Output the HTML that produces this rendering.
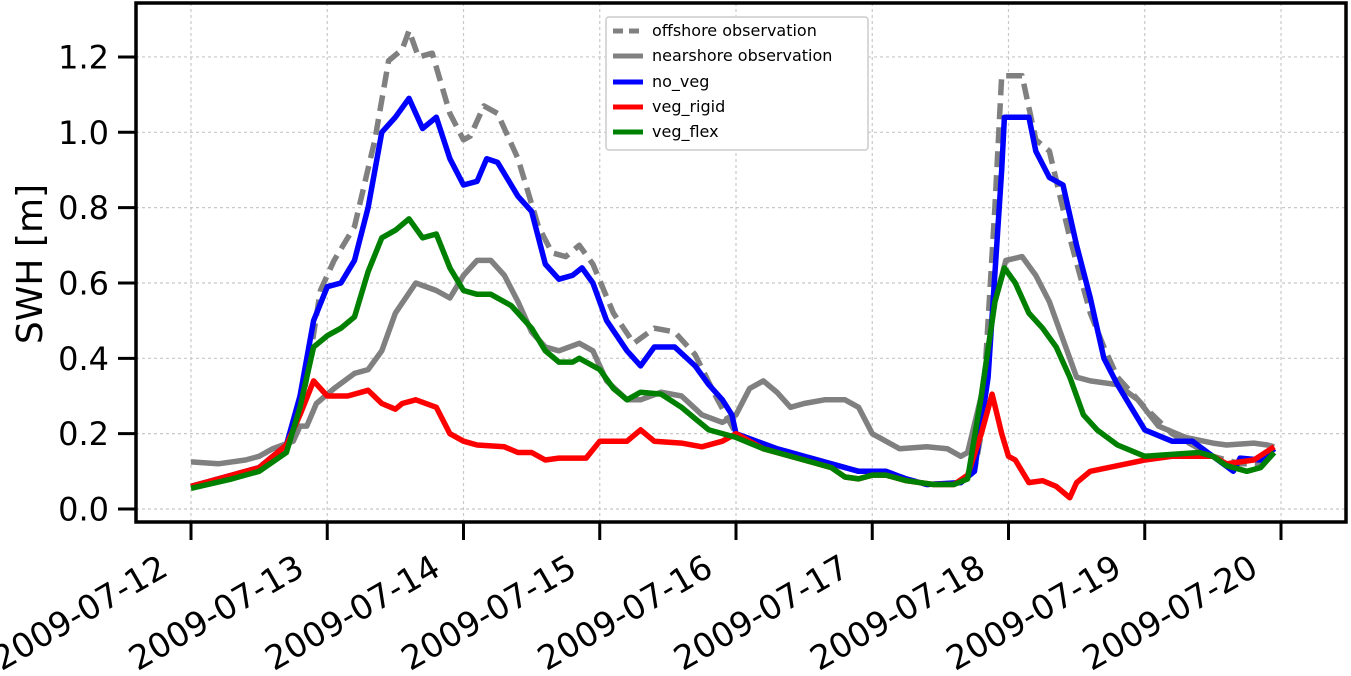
<!DOCTYPE html>
<html><head><meta charset="utf-8"><style>
html,body{margin:0;padding:0;background:#fff;}
svg{display:block;font-family:"DejaVu Sans","Liberation Sans",sans-serif;}
</style></head><body>
<svg id="chart" width="1351" height="676" viewBox="0 0 1351 676">
<g id="grid"></g>
<g id="series"></g>
<g id="axes"></g>
<text x="42" y="264" font-size="36" text-anchor="middle" transform="rotate(-90 42 264)">SWH [m]</text>
<g>
<rect x="606" y="17" width="262" height="133" fill="#fff" stroke="#ccc" stroke-width="1.5" rx="3"/>
<g><line x1="613" y1="31" x2="643" y2="31" stroke="#808080" stroke-width="5" stroke-dasharray="10,6"/><text x="652" y="36" font-size="16">offshore observation</text></g>
<g><line x1="613" y1="56" x2="643" y2="56" stroke="#808080" stroke-width="5"/><text x="652" y="61" font-size="16">nearshore observation</text></g>
<g><line x1="613" y1="82" x2="643" y2="82" stroke="#0000ff" stroke-width="5"/><text x="652" y="87" font-size="16">no_veg</text></g>
<g><line x1="613" y1="107" x2="643" y2="107" stroke="#ff0000" stroke-width="5"/><text x="652" y="112" font-size="16">veg_rigid</text></g>
<g><line x1="613" y1="132" x2="643" y2="132" stroke="#008000" stroke-width="5"/><text x="652" y="137" font-size="16">veg_flex</text></g>
</g>
</svg>
<script>
const xTickLabels=["2009-07-12","2009-07-13","2009-07-14","2009-07-15","2009-07-16","2009-07-17","2009-07-18","2009-07-19","2009-07-20"];
const yTickValues=[0,0.2,0.4,0.6,0.8,1.0,1.2];
const offT=[0,0.3,0.5,0.7,0.8,0.85,0.95,1.05,1.2,1.35,1.45,1.55,1.6,1.67,1.77,1.9,2.0,2.05,2.15,2.25,2.4,2.55,2.65,2.75,2.85,2.95,3.1,3.25,3.4,3.55,3.7,3.85,4.0,4.3,4.6,4.9,5.0,5.1,5.25,5.4,5.65,5.75,5.8,5.9,5.95,6.1,6.2,6.3,6.45,6.6,6.7,6.8,7.0,7.2,7.5,7.7,7.85,7.95];
const offV=[0.06,0.09,0.11,0.17,0.25,0.35,0.58,0.66,0.75,0.98,1.19,1.22,1.27,1.2,1.21,1.05,0.98,0.99,1.07,1.05,0.93,0.75,0.68,0.67,0.7,0.65,0.52,0.44,0.48,0.47,0.41,0.3,0.2,0.16,0.13,0.1,0.1,0.1,0.08,0.065,0.07,0.1,0.2,0.8,1.15,1.15,0.98,0.95,0.72,0.52,0.43,0.35,0.27,0.2,0.14,0.12,0.12,0.16];
const nearT=[0,0.2,0.4,0.5,0.6,0.75,0.8,0.85,0.92,1.05,1.2,1.3,1.4,1.5,1.65,1.8,1.9,2.0,2.1,2.2,2.3,2.4,2.5,2.6,2.7,2.85,2.95,3.05,3.2,3.3,3.45,3.6,3.75,3.9,4.0,4.1,4.2,4.3,4.4,4.5,4.65,4.8,4.9,5.0,5.1,5.2,5.4,5.55,5.65,5.7,5.8,5.9,5.98,6.1,6.2,6.3,6.4,6.5,6.6,6.8,6.95,7.1,7.3,7.5,7.6,7.8,7.9,7.95];
const nearV=[0.125,0.12,0.13,0.14,0.16,0.18,0.22,0.22,0.28,0.32,0.36,0.37,0.42,0.52,0.6,0.58,0.56,0.62,0.66,0.66,0.62,0.55,0.47,0.43,0.42,0.44,0.42,0.34,0.29,0.29,0.31,0.3,0.25,0.23,0.25,0.32,0.34,0.31,0.27,0.28,0.29,0.29,0.27,0.2,0.18,0.16,0.165,0.16,0.14,0.15,0.3,0.55,0.66,0.67,0.62,0.55,0.45,0.35,0.34,0.33,0.29,0.22,0.19,0.175,0.17,0.175,0.17,0.165];
const noVegT=[0,0.3,0.5,0.7,0.8,0.9,1.0,1.1,1.2,1.3,1.4,1.5,1.6,1.7,1.8,1.9,2.0,2.1,2.17,2.25,2.4,2.5,2.6,2.7,2.8,2.87,2.95,3.05,3.2,3.3,3.4,3.55,3.7,3.8,3.9,3.97,4.0,4.3,4.6,4.9,5.0,5.1,5.25,5.4,5.65,5.75,5.85,5.95,5.97,6.15,6.2,6.3,6.4,6.5,6.6,6.7,6.8,6.9,7.0,7.2,7.35,7.5,7.65,7.7,7.85,7.9,7.95];
const noVegV=[0.06,0.09,0.11,0.17,0.3,0.5,0.59,0.6,0.66,0.8,1.0,1.04,1.09,1.01,1.04,0.93,0.86,0.87,0.93,0.92,0.83,0.79,0.65,0.61,0.62,0.64,0.6,0.5,0.42,0.38,0.43,0.43,0.38,0.33,0.29,0.25,0.2,0.16,0.13,0.1,0.1,0.1,0.08,0.065,0.07,0.1,0.35,0.9,1.04,1.04,0.95,0.88,0.86,0.7,0.56,0.4,0.33,0.27,0.21,0.18,0.18,0.14,0.1,0.135,0.13,0.145,0.16];
const rigidT=[0,0.5,0.7,0.8,0.9,1.0,1.15,1.3,1.4,1.5,1.55,1.65,1.8,1.9,2.0,2.1,2.3,2.4,2.5,2.6,2.7,2.9,3.0,3.2,3.3,3.4,3.6,3.75,3.9,4.0,4.2,4.5,4.7,4.8,4.9,5.0,5.1,5.25,5.45,5.6,5.7,5.8,5.88,5.95,6.0,6.05,6.15,6.25,6.35,6.45,6.5,6.6,6.8,7.0,7.2,7.5,7.6,7.8,7.95];
const rigidV=[0.06,0.11,0.17,0.25,0.34,0.3,0.3,0.315,0.28,0.265,0.28,0.29,0.27,0.2,0.18,0.17,0.165,0.15,0.15,0.13,0.135,0.135,0.18,0.18,0.21,0.18,0.175,0.165,0.18,0.2,0.16,0.13,0.11,0.085,0.08,0.09,0.09,0.075,0.065,0.065,0.09,0.2,0.305,0.2,0.14,0.13,0.07,0.075,0.06,0.03,0.07,0.1,0.115,0.13,0.14,0.14,0.12,0.13,0.165];
const flexT=[0,0.3,0.5,0.7,0.8,0.9,1.0,1.1,1.2,1.3,1.4,1.5,1.6,1.7,1.8,1.9,2.0,2.1,2.2,2.35,2.5,2.6,2.7,2.8,2.85,3.0,3.1,3.2,3.3,3.45,3.6,3.7,3.8,4.0,4.2,4.5,4.7,4.8,4.9,5.0,5.1,5.25,5.45,5.6,5.7,5.8,5.9,5.97,6.05,6.15,6.25,6.35,6.45,6.55,6.65,6.8,7.0,7.2,7.4,7.5,7.6,7.75,7.85,7.95];
const flexV=[0.055,0.08,0.1,0.15,0.27,0.43,0.46,0.48,0.51,0.63,0.72,0.74,0.77,0.72,0.73,0.64,0.58,0.57,0.57,0.54,0.48,0.42,0.39,0.39,0.4,0.37,0.32,0.29,0.31,0.305,0.27,0.24,0.21,0.19,0.16,0.13,0.11,0.085,0.08,0.09,0.09,0.075,0.065,0.065,0.08,0.3,0.55,0.64,0.6,0.52,0.48,0.43,0.35,0.25,0.21,0.17,0.14,0.145,0.15,0.14,0.115,0.1,0.11,0.15];

const NS="http://www.w3.org/2000/svg";
const L=136,R=1346,T=3,B=522;
function xs(d){return 191+d*136.25;}
function ys(v){return 509-v*376.7;}
function mk(tag,attrs,parent){const e=document.createElementNS(NS,tag);for(const k in attrs)e.setAttribute(k,attrs[k]);parent.appendChild(e);return e;}
const grid=document.getElementById('grid'),axes=document.getElementById('axes'),series=document.getElementById('series');
xTickLabels.forEach((lab,i)=>{
  const x=xs(i);
  const g=mk('line',{x1:x,y1:T,x2:x,y2:B,stroke:'#c8c8c8','stroke-width':1.2,'stroke-dasharray':'3,3'},grid);
  
  
  const t=mk('line',{x1:x,y1:B,x2:x,y2:B+18,stroke:'#000','stroke-width':3},axes);
  
  
  const ax=x-21,ay=B+52;
  const tx=mk('text',{x:ax,y:ay,'font-size':33.5,'text-anchor':'end',transform:`rotate(-30 ${ax} ${ay})`},axes);
  tx.textContent=lab;
  
  
});
yTickValues.forEach(v=>{
  const y=ys(v);
  const g=mk('line',{x1:L,y1:y,x2:R,y2:y,stroke:'#c8c8c8','stroke-width':1.2,'stroke-dasharray':'3,3'},grid);
  
  
  const t=mk('line',{x1:L-18,y1:y,x2:L,y2:y,stroke:'#000','stroke-width':3},axes);
  
  
  const tx=mk('text',{x:L-27,y:y+11.5,'font-size':32,'text-anchor':'end'},axes);
  tx.textContent=v.toFixed(1);
  
  
});
const fr=mk('rect',{x:L,y:T,width:R-L,height:B-T,fill:'none',stroke:'#000','stroke-width':3.5},axes);


function line(tArr,vArr,color,dash,name){
  const pts=tArr.map((t,i)=>xs(t).toFixed(1)+','+ys(vArr[i]).toFixed(1)).join(' ');
  const p=mk('polyline',{points:pts,fill:'none',stroke:color,'stroke-width':5.5,'stroke-linejoin':'round'},series);
  if(dash)p.setAttribute('stroke-dasharray',dash);
  
  
}
line(offT,offV,'#808080','16,8','offshore-observation-line');
line(nearT,nearV,'#808080',null,'nearshore-observation-line');
line(noVegT,noVegV,'#0000ff',null,'no-veg-line');
line(rigidT,rigidV,'#ff0000',null,'veg-rigid-line');
line(flexT,flexV,'#008000',null,'veg-flex-line');
</script>
</body></html>
